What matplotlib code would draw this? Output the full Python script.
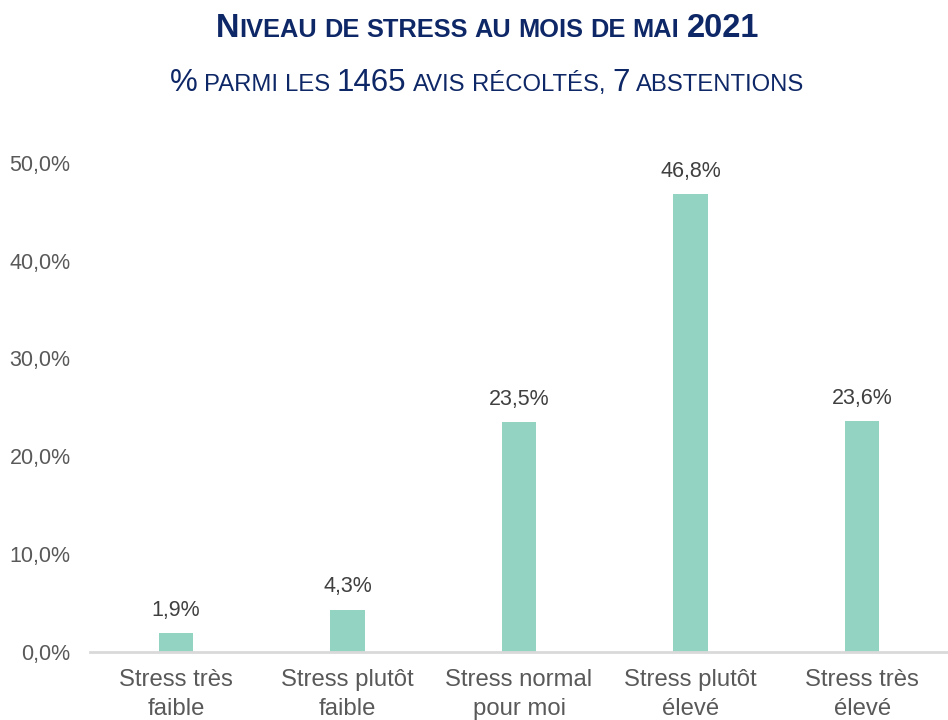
import matplotlib
matplotlib.use("Agg")
import matplotlib.pyplot as plt
from matplotlib.ticker import FuncFormatter

FONT = "Liberation Sans"
plt.rcParams["font.family"] = [FONT, "DejaVu Sans"]

categories = ["Stress très\nfaible", "Stress plutôt\nfaible", "Stress normal\npour moi",
              "Stress plutôt\nélevé", "Stress très\nélevé"]
values = [1.9, 4.3, 23.5, 46.8, 23.6]
yticks = [0, 10, 20, 30, 40, 50]

NAVY = "#0E2766"
GREY = "#595959"
BAR = "#92D3C1"

fig = plt.figure(figsize=(9.48, 7.2), dpi=100)
ax = fig.add_axes([0.095, 0.0944, 0.905, 0.6796])

x = range(len(values))
bars = ax.bar(x, values, width=0.2, color=BAR)
for b, v in zip(bars, values):
    ax.annotate(f"{v:.1f}%".replace(".", ","), (b.get_x() + b.get_width() / 2, v),
                xytext=(0, 9), textcoords="offset points", ha="center", va="bottom",
                fontsize=15.5, color="#404040")

ax.set_xlim(-0.5, len(values) - 0.5)
ax.set_ylim(0, 50)
ax.set_yticks(yticks)
ax.yaxis.set_major_formatter(FuncFormatter(lambda v, p: f"{v:.1f}%".replace(".", ",")))
ax.set_xticks(list(x))
ax.set_xticklabels(categories, fontsize=17.2, color=GREY, linespacing=1.45)
ax.tick_params(axis="y", length=0, pad=14, labelsize=15.5, labelcolor=GREY)
ax.tick_params(axis="x", length=0, pad=12)
for s in ["left", "right", "top"]:
    ax.spines[s].set_visible(False)
ax.spines["bottom"].set_color("#D9D9D9")
ax.spines["bottom"].set_linewidth(2)

renderer = fig.canvas.get_renderer()


def width_of(s, size, weight):
    t = fig.text(0, 0, s, fontsize=size, fontweight=weight)
    w = t.get_window_extent(renderer).width
    t.remove()
    return w


def small_caps_line(runs, y, weight, color, xc=0.514):
    # lay out pieces of different sizes on one baseline, centred at xc
    pieces = []
    pos = 0.0
    for text, size in runs:
        sp = width_of("a a", size, weight) - width_of("aa", size, weight)
        words = text.split(" ")
        for i, wd in enumerate(words):
            if i > 0:
                pos += sp
            if wd:
                pieces.append((pos, wd, size))
                pos += width_of(wd, size, weight)
    W = fig.get_figwidth() * fig.dpi
    x0 = xc * W - pos / 2
    for p, wd, size in pieces:
        fig.text((x0 + p) / W, y, wd, fontsize=size, fontweight=weight,
                 color=color, va="baseline", ha="left")


small_caps_line([("N", 23.5), ("IVEAU DE STRESS AU MOIS DE MAI ", 18.3), ("2021", 23.5)],
                0.949, "bold", NAVY)
small_caps_line([("%", 22.5), (" PARMI LES ", 17.2), ("1465", 22.5), (" AVIS RÉCOLTÉS, ", 17.2),
                 ("7", 22.5), (" ABSTENTIONS", 17.2)], 0.873, "normal", NAVY)

fig.savefig("out.png", dpi=100)
